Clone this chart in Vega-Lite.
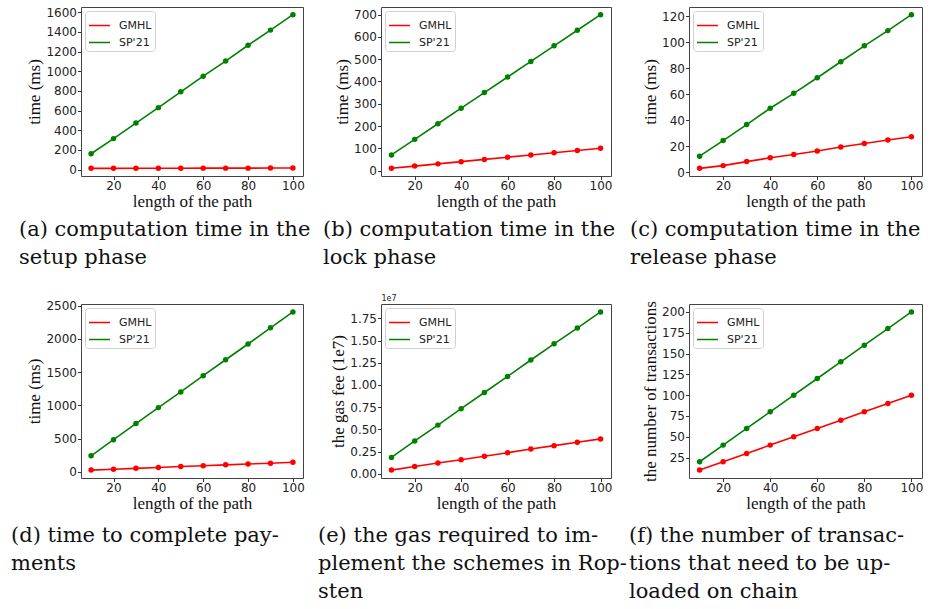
{
  "$schema": "https://vega.github.io/schema/vega-lite/v6.json",
  "padding": {"left": 10, "top": 5, "right": 5, "bottom": 5},
  "background": "white",
  "config": {
    "view": {"stroke": "#444", "strokeWidth": 1},
    "axis": {
      "grid": false, "domain": false, "tickColor": "#333", "tickSize": 3.5, "labelPadding": 1,
      "labelFont": "DejaVu Sans", "labelFontSize": 12, "labelColor": "#222",
      "titleFont": "Liberation Serif", "titleFontSize": 17, "titleFontWeight": "normal", "titleColor": "#111", "titlePadding": 2
    },
    "axisX": {"labelPadding": 1, "titlePadding": 2},
    "legend": {
      "orient": "top-left", "offset": 4, "title": null, "padding": 3, "cornerRadius": 3,
      "strokeColor": "#d0d0d0", "fillColor": "white", "labelFont": "DejaVu Sans", "labelFontSize": 11,
      "labelColor": "#222", "symbolType": "stroke", "symbolSize": 440, "symbolStrokeWidth": 1.5,
      "rowPadding": -3, "labelOffset": 8
    },
    "title": {"font": "DejaVu Serif", "fontSize": 21, "fontWeight": "normal", "color": "#111", "lineHeight": 28, "orient": "bottom", "anchor": "start", "frame": "group", "offset": 9}
  },
  "datasets": {
    "a": [
      {"len": 10, "scheme": "GMHL", "value": 13}, {"len": 20, "scheme": "GMHL", "value": 13}, {"len": 30, "scheme": "GMHL", "value": 14}, {"len": 40, "scheme": "GMHL", "value": 14}, {"len": 50, "scheme": "GMHL", "value": 14}, {"len": 60, "scheme": "GMHL", "value": 15}, {"len": 70, "scheme": "GMHL", "value": 15}, {"len": 80, "scheme": "GMHL", "value": 15}, {"len": 90, "scheme": "GMHL", "value": 16}, {"len": 100, "scheme": "GMHL", "value": 16},
      {"len": 10, "scheme": "SP'21", "value": 161}, {"len": 20, "scheme": "SP'21", "value": 315}, {"len": 30, "scheme": "SP'21", "value": 473}, {"len": 40, "scheme": "SP'21", "value": 630}, {"len": 50, "scheme": "SP'21", "value": 791}, {"len": 60, "scheme": "SP'21", "value": 950}, {"len": 70, "scheme": "SP'21", "value": 1103}, {"len": 80, "scheme": "SP'21", "value": 1264}, {"len": 90, "scheme": "SP'21", "value": 1418}, {"len": 100, "scheme": "SP'21", "value": 1575}
    ],
    "b": [
      {"len": 10, "scheme": "GMHL", "value": 10}, {"len": 20, "scheme": "GMHL", "value": 20}, {"len": 30, "scheme": "GMHL", "value": 30}, {"len": 40, "scheme": "GMHL", "value": 40}, {"len": 50, "scheme": "GMHL", "value": 50}, {"len": 60, "scheme": "GMHL", "value": 60}, {"len": 70, "scheme": "GMHL", "value": 70}, {"len": 80, "scheme": "GMHL", "value": 80}, {"len": 90, "scheme": "GMHL", "value": 90}, {"len": 100, "scheme": "GMHL", "value": 100},
      {"len": 10, "scheme": "SP'21", "value": 70}, {"len": 20, "scheme": "SP'21", "value": 140}, {"len": 30, "scheme": "SP'21", "value": 210}, {"len": 40, "scheme": "SP'21", "value": 280}, {"len": 50, "scheme": "SP'21", "value": 350}, {"len": 60, "scheme": "SP'21", "value": 420}, {"len": 70, "scheme": "SP'21", "value": 490}, {"len": 80, "scheme": "SP'21", "value": 560}, {"len": 90, "scheme": "SP'21", "value": 630}, {"len": 100, "scheme": "SP'21", "value": 700}
    ],
    "c": [
      {"len": 10, "scheme": "GMHL", "value": 2.9}, {"len": 20, "scheme": "GMHL", "value": 5.0}, {"len": 30, "scheme": "GMHL", "value": 8.1}, {"len": 40, "scheme": "GMHL", "value": 11.0}, {"len": 50, "scheme": "GMHL", "value": 13.6}, {"len": 60, "scheme": "GMHL", "value": 16.2}, {"len": 70, "scheme": "GMHL", "value": 19.3}, {"len": 80, "scheme": "GMHL", "value": 22.0}, {"len": 90, "scheme": "GMHL", "value": 24.8}, {"len": 100, "scheme": "GMHL", "value": 27.2},
      {"len": 10, "scheme": "SP'21", "value": 12.3}, {"len": 20, "scheme": "SP'21", "value": 24.3}, {"len": 30, "scheme": "SP'21", "value": 36.6}, {"len": 40, "scheme": "SP'21", "value": 49.2}, {"len": 50, "scheme": "SP'21", "value": 60.7}, {"len": 60, "scheme": "SP'21", "value": 72.7}, {"len": 70, "scheme": "SP'21", "value": 85.0}, {"len": 80, "scheme": "SP'21", "value": 97.3}, {"len": 90, "scheme": "SP'21", "value": 109.0}, {"len": 100, "scheme": "SP'21", "value": 121.3}
    ],
    "d": [
      {"len": 10, "scheme": "GMHL", "value": 25}, {"len": 20, "scheme": "GMHL", "value": 38}, {"len": 30, "scheme": "GMHL", "value": 51}, {"len": 40, "scheme": "GMHL", "value": 64}, {"len": 50, "scheme": "GMHL", "value": 78}, {"len": 60, "scheme": "GMHL", "value": 91}, {"len": 70, "scheme": "GMHL", "value": 104}, {"len": 80, "scheme": "GMHL", "value": 117}, {"len": 90, "scheme": "GMHL", "value": 129}, {"len": 100, "scheme": "GMHL", "value": 142},
      {"len": 10, "scheme": "SP'21", "value": 240}, {"len": 20, "scheme": "SP'21", "value": 483}, {"len": 30, "scheme": "SP'21", "value": 725}, {"len": 40, "scheme": "SP'21", "value": 965}, {"len": 50, "scheme": "SP'21", "value": 1201}, {"len": 60, "scheme": "SP'21", "value": 1446}, {"len": 70, "scheme": "SP'21", "value": 1685}, {"len": 80, "scheme": "SP'21", "value": 1922}, {"len": 90, "scheme": "SP'21", "value": 2166}, {"len": 100, "scheme": "SP'21", "value": 2405}
    ],
    "e": [
      {"len": 10, "scheme": "GMHL", "value": 0.042}, {"len": 20, "scheme": "GMHL", "value": 0.083}, {"len": 30, "scheme": "GMHL", "value": 0.121}, {"len": 40, "scheme": "GMHL", "value": 0.159}, {"len": 50, "scheme": "GMHL", "value": 0.197}, {"len": 60, "scheme": "GMHL", "value": 0.238}, {"len": 70, "scheme": "GMHL", "value": 0.280}, {"len": 80, "scheme": "GMHL", "value": 0.317}, {"len": 90, "scheme": "GMHL", "value": 0.355}, {"len": 100, "scheme": "GMHL", "value": 0.393},
      {"len": 10, "scheme": "SP'21", "value": 0.185}, {"len": 20, "scheme": "SP'21", "value": 0.370}, {"len": 30, "scheme": "SP'21", "value": 0.548}, {"len": 40, "scheme": "SP'21", "value": 0.733}, {"len": 50, "scheme": "SP'21", "value": 0.915}, {"len": 60, "scheme": "SP'21", "value": 1.096}, {"len": 70, "scheme": "SP'21", "value": 1.281}, {"len": 80, "scheme": "SP'21", "value": 1.463}, {"len": 90, "scheme": "SP'21", "value": 1.640}, {"len": 100, "scheme": "SP'21", "value": 1.822}
    ],
    "f": [
      {"len": 10, "scheme": "GMHL", "value": 10}, {"len": 20, "scheme": "GMHL", "value": 20}, {"len": 30, "scheme": "GMHL", "value": 30}, {"len": 40, "scheme": "GMHL", "value": 40}, {"len": 50, "scheme": "GMHL", "value": 50}, {"len": 60, "scheme": "GMHL", "value": 60}, {"len": 70, "scheme": "GMHL", "value": 70}, {"len": 80, "scheme": "GMHL", "value": 80}, {"len": 90, "scheme": "GMHL", "value": 90}, {"len": 100, "scheme": "GMHL", "value": 100},
      {"len": 10, "scheme": "SP'21", "value": 20}, {"len": 20, "scheme": "SP'21", "value": 40}, {"len": 30, "scheme": "SP'21", "value": 60}, {"len": 40, "scheme": "SP'21", "value": 80}, {"len": 50, "scheme": "SP'21", "value": 100}, {"len": 60, "scheme": "SP'21", "value": 120}, {"len": 70, "scheme": "SP'21", "value": 140}, {"len": 80, "scheme": "SP'21", "value": 160}, {"len": 90, "scheme": "SP'21", "value": 180}, {"len": 100, "scheme": "SP'21", "value": 200}
    ]
  },
  "columns": 3,
  "bounds": "flush",
  "spacing": {"row": 128, "column": 78},
  "resolve": {"scale": {"color": "independent", "x": "independent", "y": "independent"}, "legend": {"color": "independent"}},
  "concat": [
    {
      "width": 222, "height": 169,
      "title": {"text": ["(a) computation time in the", "setup phase"], "dx": -62},
      "data": {"name": "a"},
      "encoding": {
        "x": {"field": "len", "type": "quantitative", "scale": {"domain": [5.5, 104.5], "nice": false, "zero": false}, "axis": {"values": [20, 40, 60, 80, 100], "title": "length of the path", "format": "d"}},
        "y": {"field": "value", "type": "quantitative", "scale": {"domain": [-65, 1653], "nice": false, "zero": false}, "axis": {"values": [0, 200, 400, 600, 800, 1000, 1200, 1400, 1600], "title": "time (ms)", "format": "d"}},
        "color": {"field": "scheme", "type": "nominal", "scale": {"domain": ["GMHL", "SP'21"], "range": ["#ff0000", "#008000"]}}
      },
      "layer": [
        {"mark": {"type": "line", "strokeWidth": 1.6}},
        {"mark": {"type": "point", "filled": true, "size": 30, "opacity": 1}}
      ]
    },
    {
      "width": 230, "height": 169,
      "title": {"text": ["(b) computation time in the", "lock phase"], "dx": -58},
      "data": {"name": "b"},
      "encoding": {
        "x": {"field": "len", "type": "quantitative", "scale": {"domain": [5.5, 104.5], "nice": false, "zero": false}, "axis": {"values": [20, 40, 60, 80, 100], "title": "length of the path", "format": "d"}},
        "y": {"field": "value", "type": "quantitative", "scale": {"domain": [-24.5, 734.5], "nice": false, "zero": false}, "axis": {"values": [0, 100, 200, 300, 400, 500, 600, 700], "title": "time (ms)", "format": "d"}},
        "color": {"field": "scheme", "type": "nominal", "scale": {"domain": ["GMHL", "SP'21"], "range": ["#ff0000", "#008000"]}}
      },
      "layer": [
        {"mark": {"type": "line", "strokeWidth": 1.6}},
        {"mark": {"type": "point", "filled": true, "size": 30, "opacity": 1}}
      ]
    },
    {
      "width": 233, "height": 169,
      "title": {"text": ["(c) computation time in the", "release phase"], "dx": -59},
      "data": {"name": "c"},
      "encoding": {
        "x": {"field": "len", "type": "quantitative", "scale": {"domain": [5.5, 104.5], "nice": false, "zero": false}, "axis": {"values": [20, 40, 60, 80, 100], "title": "length of the path", "format": "d"}},
        "y": {"field": "value", "type": "quantitative", "scale": {"domain": [-3.0, 127.2], "nice": false, "zero": false}, "axis": {"values": [0, 20, 40, 60, 80, 100, 120], "title": "time (ms)", "format": "d"}},
        "color": {"field": "scheme", "type": "nominal", "scale": {"domain": ["GMHL", "SP'21"], "range": ["#ff0000", "#008000"]}}
      },
      "layer": [
        {"mark": {"type": "line", "strokeWidth": 1.6}},
        {"mark": {"type": "point", "filled": true, "size": 30, "opacity": 1}}
      ]
    },
    {
      "width": 222, "height": 174,
      "title": {"text": ["(d) time to complete pay-", "ments"], "dx": -70, "offset": 13},
      "data": {"name": "d"},
      "encoding": {
        "x": {"field": "len", "type": "quantitative", "scale": {"domain": [5.5, 104.5], "nice": false, "zero": false}, "axis": {"values": [20, 40, 60, 80, 100], "title": "length of the path", "format": "d"}},
        "y": {"field": "value", "type": "quantitative", "scale": {"domain": [-94, 2524], "nice": false, "zero": false}, "axis": {"values": [0, 500, 1000, 1500, 2000, 2500], "title": "time (ms)", "format": "d"}},
        "color": {"field": "scheme", "type": "nominal", "scale": {"domain": ["GMHL", "SP'21"], "range": ["#ff0000", "#008000"]}}
      },
      "layer": [
        {"mark": {"type": "line", "strokeWidth": 1.6}},
        {"mark": {"type": "point", "filled": true, "size": 30, "opacity": 1}}
      ]
    },
    {
      "width": 230, "height": 174,
      "title": {"text": ["(e) the gas required to im-", "plement the schemes in Rop-", "sten"], "dx": -63, "offset": 13},
      "data": {"name": "e"},
      "encoding": {
        "y": {"field": "value", "type": "quantitative", "scale": {"domain": [-0.047, 1.911], "nice": false, "zero": false}, "axis": {"values": [0, 0.25, 0.5, 0.75, 1.0, 1.25, 1.5, 1.75], "title": "the gas fee (1e7)", "format": ".2f"}},
        "color": {"field": "scheme", "type": "nominal", "scale": {"domain": ["GMHL", "SP'21"], "range": ["#ff0000", "#008000"]}}
      },
      "layer": [
        {"mark": {"type": "line", "strokeWidth": 1.6},
         "encoding": {"x": {"field": "len", "type": "quantitative", "scale": {"domain": [5.5, 104.5], "nice": false, "zero": false}, "axis": {"values": [20, 40, 60, 80, 100], "title": "length of the path", "format": "d"}}}},
        {"mark": {"type": "point", "filled": true, "size": 30, "opacity": 1},
         "encoding": {"x": {"field": "len", "type": "quantitative", "axis": {"orient": "top", "labels": false, "ticks": false, "domain": false, "title": "1e7", "titleAnchor": "start", "titleFont": "DejaVu Sans", "titleFontSize": 8, "titleColor": "#222", "titlePadding": 2}}}}
      ],
      "resolve": {"axis": {"x": "independent"}}
    },
    {
      "width": 233, "height": 174,
      "title": {"text": ["(f) the number of transac-", "tions that need to be up-", "loaded on chain"], "dx": -60, "offset": 13},
      "data": {"name": "f"},
      "encoding": {
        "x": {"field": "len", "type": "quantitative", "scale": {"domain": [5.5, 104.5], "nice": false, "zero": false}, "axis": {"values": [20, 40, 60, 80, 100], "title": "length of the path", "format": "d"}},
        "y": {"field": "value", "type": "quantitative", "scale": {"domain": [0.5, 209.5], "nice": false, "zero": false}, "axis": {"values": [25, 50, 75, 100, 125, 150, 175, 200], "title": "the number of transactions", "format": "d"}},
        "color": {"field": "scheme", "type": "nominal", "scale": {"domain": ["GMHL", "SP'21"], "range": ["#ff0000", "#008000"]}}
      },
      "layer": [
        {"mark": {"type": "line", "strokeWidth": 1.6}},
        {"mark": {"type": "point", "filled": true, "size": 30, "opacity": 1}}
      ]
    }
  ]
}
